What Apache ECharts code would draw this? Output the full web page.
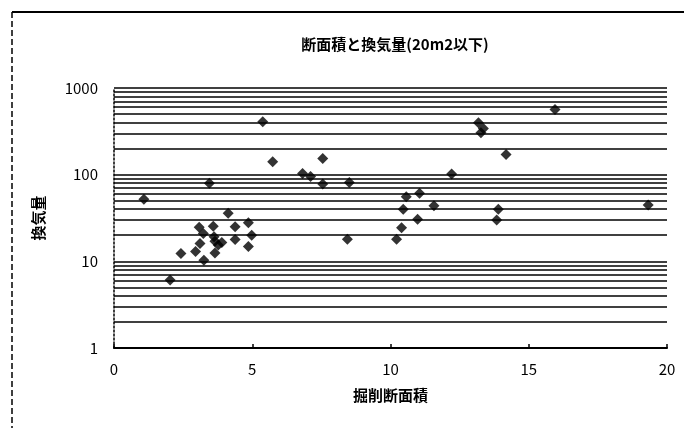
<!DOCTYPE html>
<html>
<head>
<meta charset="utf-8">
<script src="https://cdn.jsdelivr.net/npm/echarts@6/dist/echarts.min.js"></script>
<style>
  html, body { margin: 0; padding: 0; background: #fff; }
  #chart { width: 684px; height: 428px; }
</style>
</head>
<body>
<div id="chart"></div>
<script>
  // 掘削断面積 (x) と 換気量 (y)
  var area = [1.08, 2.03, 2.42, 2.95, 3.08, 3.11, 3.23, 3.25, 3.45, 3.59, 3.62, 3.65, 3.77, 3.9,
    3.65, 4.13, 4.38, 4.38, 4.86, 4.98, 4.86, 5.38, 5.74, 6.82, 7.11, 7.55, 7.55, 8.51, 8.44,
    10.22, 10.4, 10.46, 10.57, 10.98, 11.05, 11.57, 12.21, 13.18, 13.36, 13.27, 13.84, 13.9,
    14.18, 15.95, 19.32]
  var airflow = [52, 6.1, 12.3, 13, 24.7, 16.1, 21, 10.3, 79.5, 25.4, 19.2, 17, 15.4, 16.5,
    12.5, 35.8, 25, 17.9, 27.9, 20, 14.8, 407, 141, 103, 95, 154, 78, 81, 18,
    18, 24.4, 40, 55.6, 30.5, 61, 43.8, 102, 397, 342, 304, 30, 40,
    171, 566, 44.6]
  var xTicks = [0, 5, 10, 15, 20]
  var yTicks = [1, 10, 100, 1000]
  // 対数目盛の補助線
  var minorLines = [2, 3, 4, 5, 6, 7, 8, 9, 20, 30, 40, 50, 60, 70, 80, 90,
    200, 300, 400, 500, 600, 700, 800, 900]

  var points = []
  for (var i = 0; i < area.length; i++) {
    points.push([area[i], airflow[i]])
  }

  var font = '"Noto Sans CJK JP", sans-serif'
  var chart = echarts.init(document.getElementById('chart'))
  chart.setOption({
    backgroundColor: '#fff',
    animation: false,
    title: {
      text: '断面積と換気量(20m2以下)',
      left: 390,
      top: 32,
      textAlign: 'center',
      textStyle: { fontFamily: font, fontSize: 15, fontWeight: 'bold', color: '#000' }
    },
    grid: { left: 114, right: 17, top: 88, bottom: 80 },
    graphic: [
      { type: 'line', shape: { x1: 12, y1: 12, x2: 684, y2: 12 }, style: { stroke: '#000', lineWidth: 2 } },
      { type: 'line', shape: { x1: 12, y1: 12, x2: 12, y2: 428 }, style: { stroke: '#000', lineWidth: 1.5, lineDash: [6, 3] } }
    ],
    xAxis: {
      type: 'value',
      min: xTicks[0],
      max: xTicks[xTicks.length - 1],
      interval: 5,
      name: '掘削断面積',
      nameLocation: 'middle',
      nameGap: 40,
      nameTextStyle: { fontFamily: font, fontSize: 15, fontWeight: 'bold', color: '#000' },
      axisLine: { lineStyle: { color: '#000', width: 2 } },
      axisTick: { inside: true, length: 4, lineStyle: { color: '#000', width: 1.5 } },
      axisLabel: { fontFamily: font, fontSize: 15, color: '#000', margin: 14 },
      splitLine: { show: false }
    },
    yAxis: {
      type: 'log',
      logBase: 10,
      min: yTicks[0],
      max: yTicks[yTicks.length - 1],
      name: '換気量',
      nameLocation: 'middle',
      nameRotate: 90,
      nameGap: 68,
      nameTextStyle: { fontFamily: font, fontSize: 15, fontWeight: 'bold', color: '#000' },
      axisLine: { show: true, lineStyle: { color: '#000', width: 1.5, type: [2, 2] } },
      axisTick: { show: false },
      axisLabel: {
        fontFamily: font, fontSize: 15, color: '#000', margin: 16,
        formatter: function (v) { return String(Math.round(v)) }
      },
      splitLine: { show: true, lineStyle: { color: '#000', width: 1.5 } }
    },
    series: [
      {
        type: 'scatter',
        data: points,
        symbol: 'diamond',
        symbolSize: 11,
        itemStyle: { color: '#000' },
        markLine: {
          silent: true,
          symbol: 'none',
          label: { show: false },
          lineStyle: { color: '#000', width: 1.5, type: 'solid' },
          data: minorLines.map(function (v) { return { yAxis: v } })
        }
      }
    ]
  })
</script>
</body>
</html>
